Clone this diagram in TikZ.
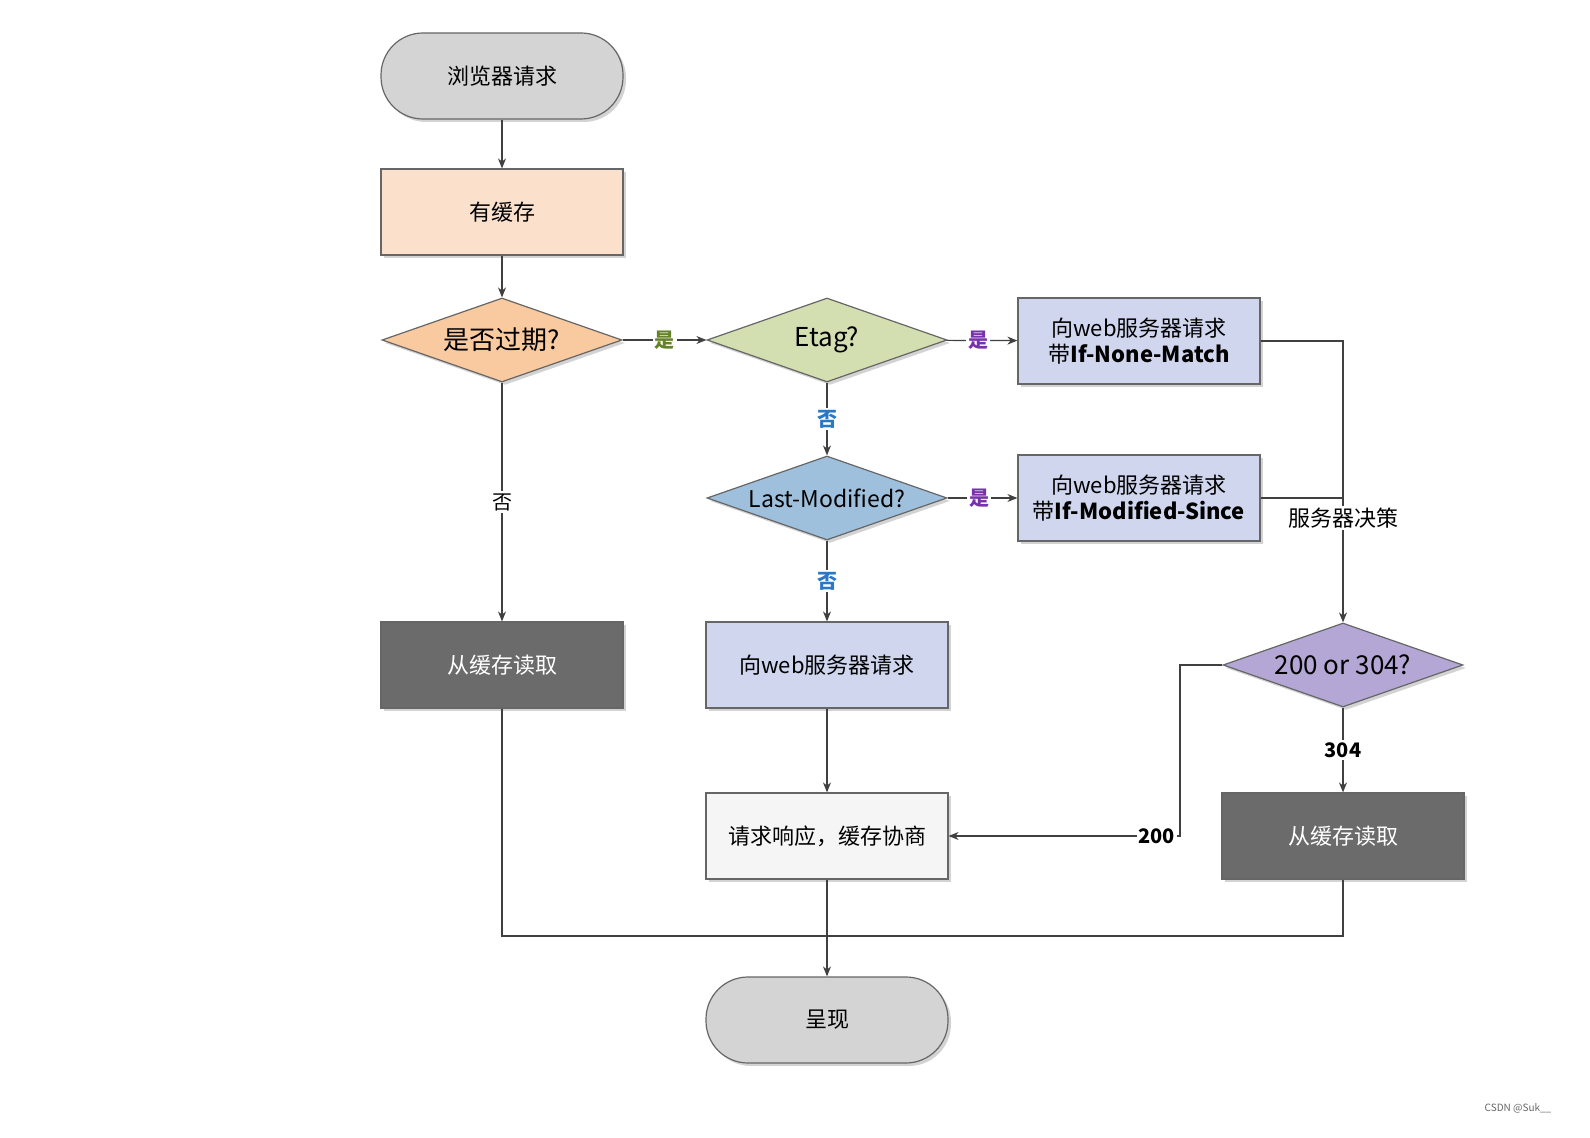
\documentclass[tikz,border=0pt]{standalone}
\usepackage{fontspec}
\setmainfont{Noto Sans CJK SC}
\usetikzlibrary{shapes.geometric,arrows.meta,shadows}
\definecolor{dk}{HTML}{6B6B6B}
\begin{document}
\begin{tikzpicture}[x=0.5pt,y=-0.5pt,
  base/.style={draw=black!60,line width=0.6pt,drop shadow={shadow xshift=1.5pt,shadow yshift=-1.5pt,opacity=0.35},font=\fontsize{11}{13}\selectfont,align=center,inner sep=0pt},
  box/.style={base,rectangle,minimum width=121pt,minimum height=43pt},
  pill/.style={base,rectangle,rounded corners=21pt,minimum width=121pt,minimum height=43pt,fill=black!17},
  dia/.style={base,diamond,aspect=2.86,minimum width=120pt,minimum height=42pt,font=\fontsize{13}{15}\selectfont},
  ar/.style={draw=black!75,line width=0.6pt,-{Stealth[length=5pt,width=4pt]}},
  ln/.style={draw=black!75,line width=0.6pt},
  lab/.style={fill=white,inner sep=1pt,font=\fontsize{10}{12}\selectfont\bfseries}]
\node[pill] (s) at (502,76) {浏览器请求};
\node[box,fill={rgb,255:red,251;green,224;blue,204}] (c) at (502,212) {有缓存};
\node[dia,fill={rgb,255:red,249;green,201;blue,159}] (e) at (502,340) {是否过期?};
\node[dia,fill={rgb,255:red,211;green,223;blue,176}] (t) at (827,340) {Etag?};
\node[box,fill={rgb,255:red,208;green,214;blue,238}] (b1) at (1139,341) {向web服务器请求\\带\textbf{If-None-Match}};
\node[dia,fill={rgb,255:red,159;green,192;blue,221},font=\fontsize{11.5}{13}\selectfont] (m) at (827,498) {Last-Modified?};
\node[box,fill={rgb,255:red,208;green,214;blue,238}] (b2) at (1139,498) {向web服务器请求\\带\textbf{If-Modified-Since}};
\node[box,fill=dk,text=white] (r1) at (502,665) {从缓存读取};
\node[box,fill={rgb,255:red,208;green,214;blue,238}] (w) at (827,665) {向web服务器请求};
\node[dia,fill={rgb,255:red,180;green,167;blue,214}] (d) at (1343,665) {200 or 304?};
\node[box,fill=black!4] (q) at (827,836) {请求响应，缓存协商};
\node[box,fill=dk,text=white] (r2) at (1343,836) {从缓存读取};
\node[pill] (p) at (827,1020) {呈现};
\draw[ar] (s) -- (c);
\draw[ar] (c) -- (e);
\draw[ar] (e) -- node[lab,text={rgb,255:red,100;green,130;blue,40}]{是} (t);
\draw[ar] (t) -- node[lab,text={rgb,255:red,120;green,50;blue,170},pos=0.45]{是} (b1);
\draw[ar] (t) -- node[lab,text={rgb,255:red,40;green,120;blue,200}]{否} (m);
\draw[ar] (m) -- node[lab,text={rgb,255:red,120;green,50;blue,170},pos=0.45]{是} (b2);
\draw[ar] (m) -- node[lab,text={rgb,255:red,40;green,120;blue,200}]{否} (w);
\draw[ar] (e) -- node[lab,font=\fontsize{10}{12}\selectfont]{否} (r1);
\draw[ar] (w) -- (q);
\draw[ln] (b1.east) -| (1343,518) node[lab,font=\fontsize{11}{13}\selectfont,fill=white]{服务器决策};
\draw[ar] (1343,530) -- (d.north);
\draw[ln] (b2.east) -- (1343,498);
\draw[ar] (d.south) -- node[lab]{304} (r2);
\draw[ar] (d.west) -- (1180,665) |- node[lab,pos=0.55]{200} (q.east);
\coordinate (j) at (827,936);
\draw[ln] (r1.south) |- (j);
\draw[ln] (r2.south) |- (j);
\draw[ar] (q) -- (p);
\node[font=\fontsize{5}{6}\selectfont,text=black!60] (wm) at (1518,1108) {CSDN @Suk\_\_};
\pgfresetboundingbox
\useasboundingbox (0,0) rectangle (1590,1138);
\end{tikzpicture}
\end{document}
